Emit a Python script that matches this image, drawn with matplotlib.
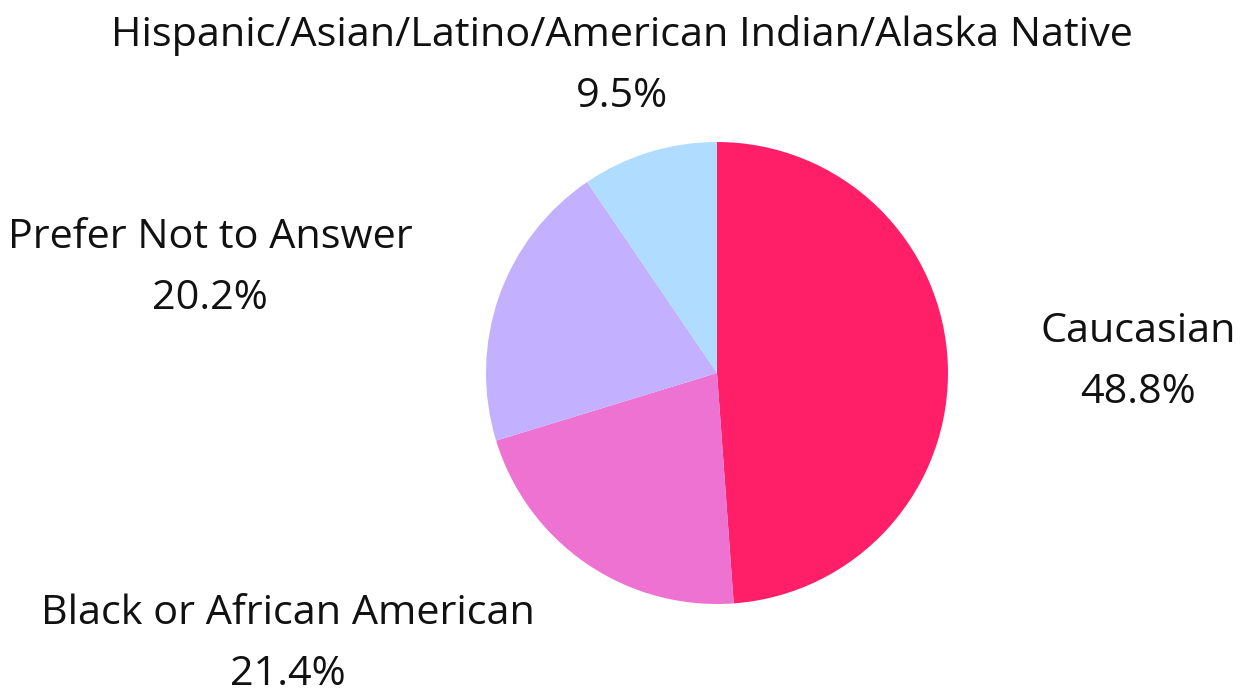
import matplotlib.pyplot as plt

categories = ["Caucasian", "Black or African American", "Prefer Not to Answer",
              "Hispanic/Asian/Latino/American Indian/Alaska Native"]
shares = [48.8, 21.4, 20.2, 9.5]
colors = ["#FF1F68", "#EE72D2", "#C3B0FF", "#B0DCFF"]

# label centres in figure pixels (x, y from top)
label_pos = [(1138, 362), (288, 644), (210, 268), (622, 66)]

W, H = 1244, 692
fig = plt.figure(figsize=(W / 100, H / 100), dpi=100)
ax = fig.add_axes([486 / W, 88 / H, 462 / W, 462 / H])
ax.pie(shares, colors=colors, startangle=90, counterclock=False, radius=1,
       wedgeprops=dict(linewidth=0))
ax.set_xlim(-1, 1)
ax.set_ylim(-1, 1)
ax.set_aspect("equal")
ax.axis("off")

for name, val, (x, y) in zip(categories, shares, label_pos):
    fig.text(x / W, 1 - y / H, f"{name}\n{val:.1f}%", ha="center", va="center",
             fontsize=29.8, family="Open Sans", color="#111111", linespacing=1.66)

fig.savefig("out.png", dpi=100)
